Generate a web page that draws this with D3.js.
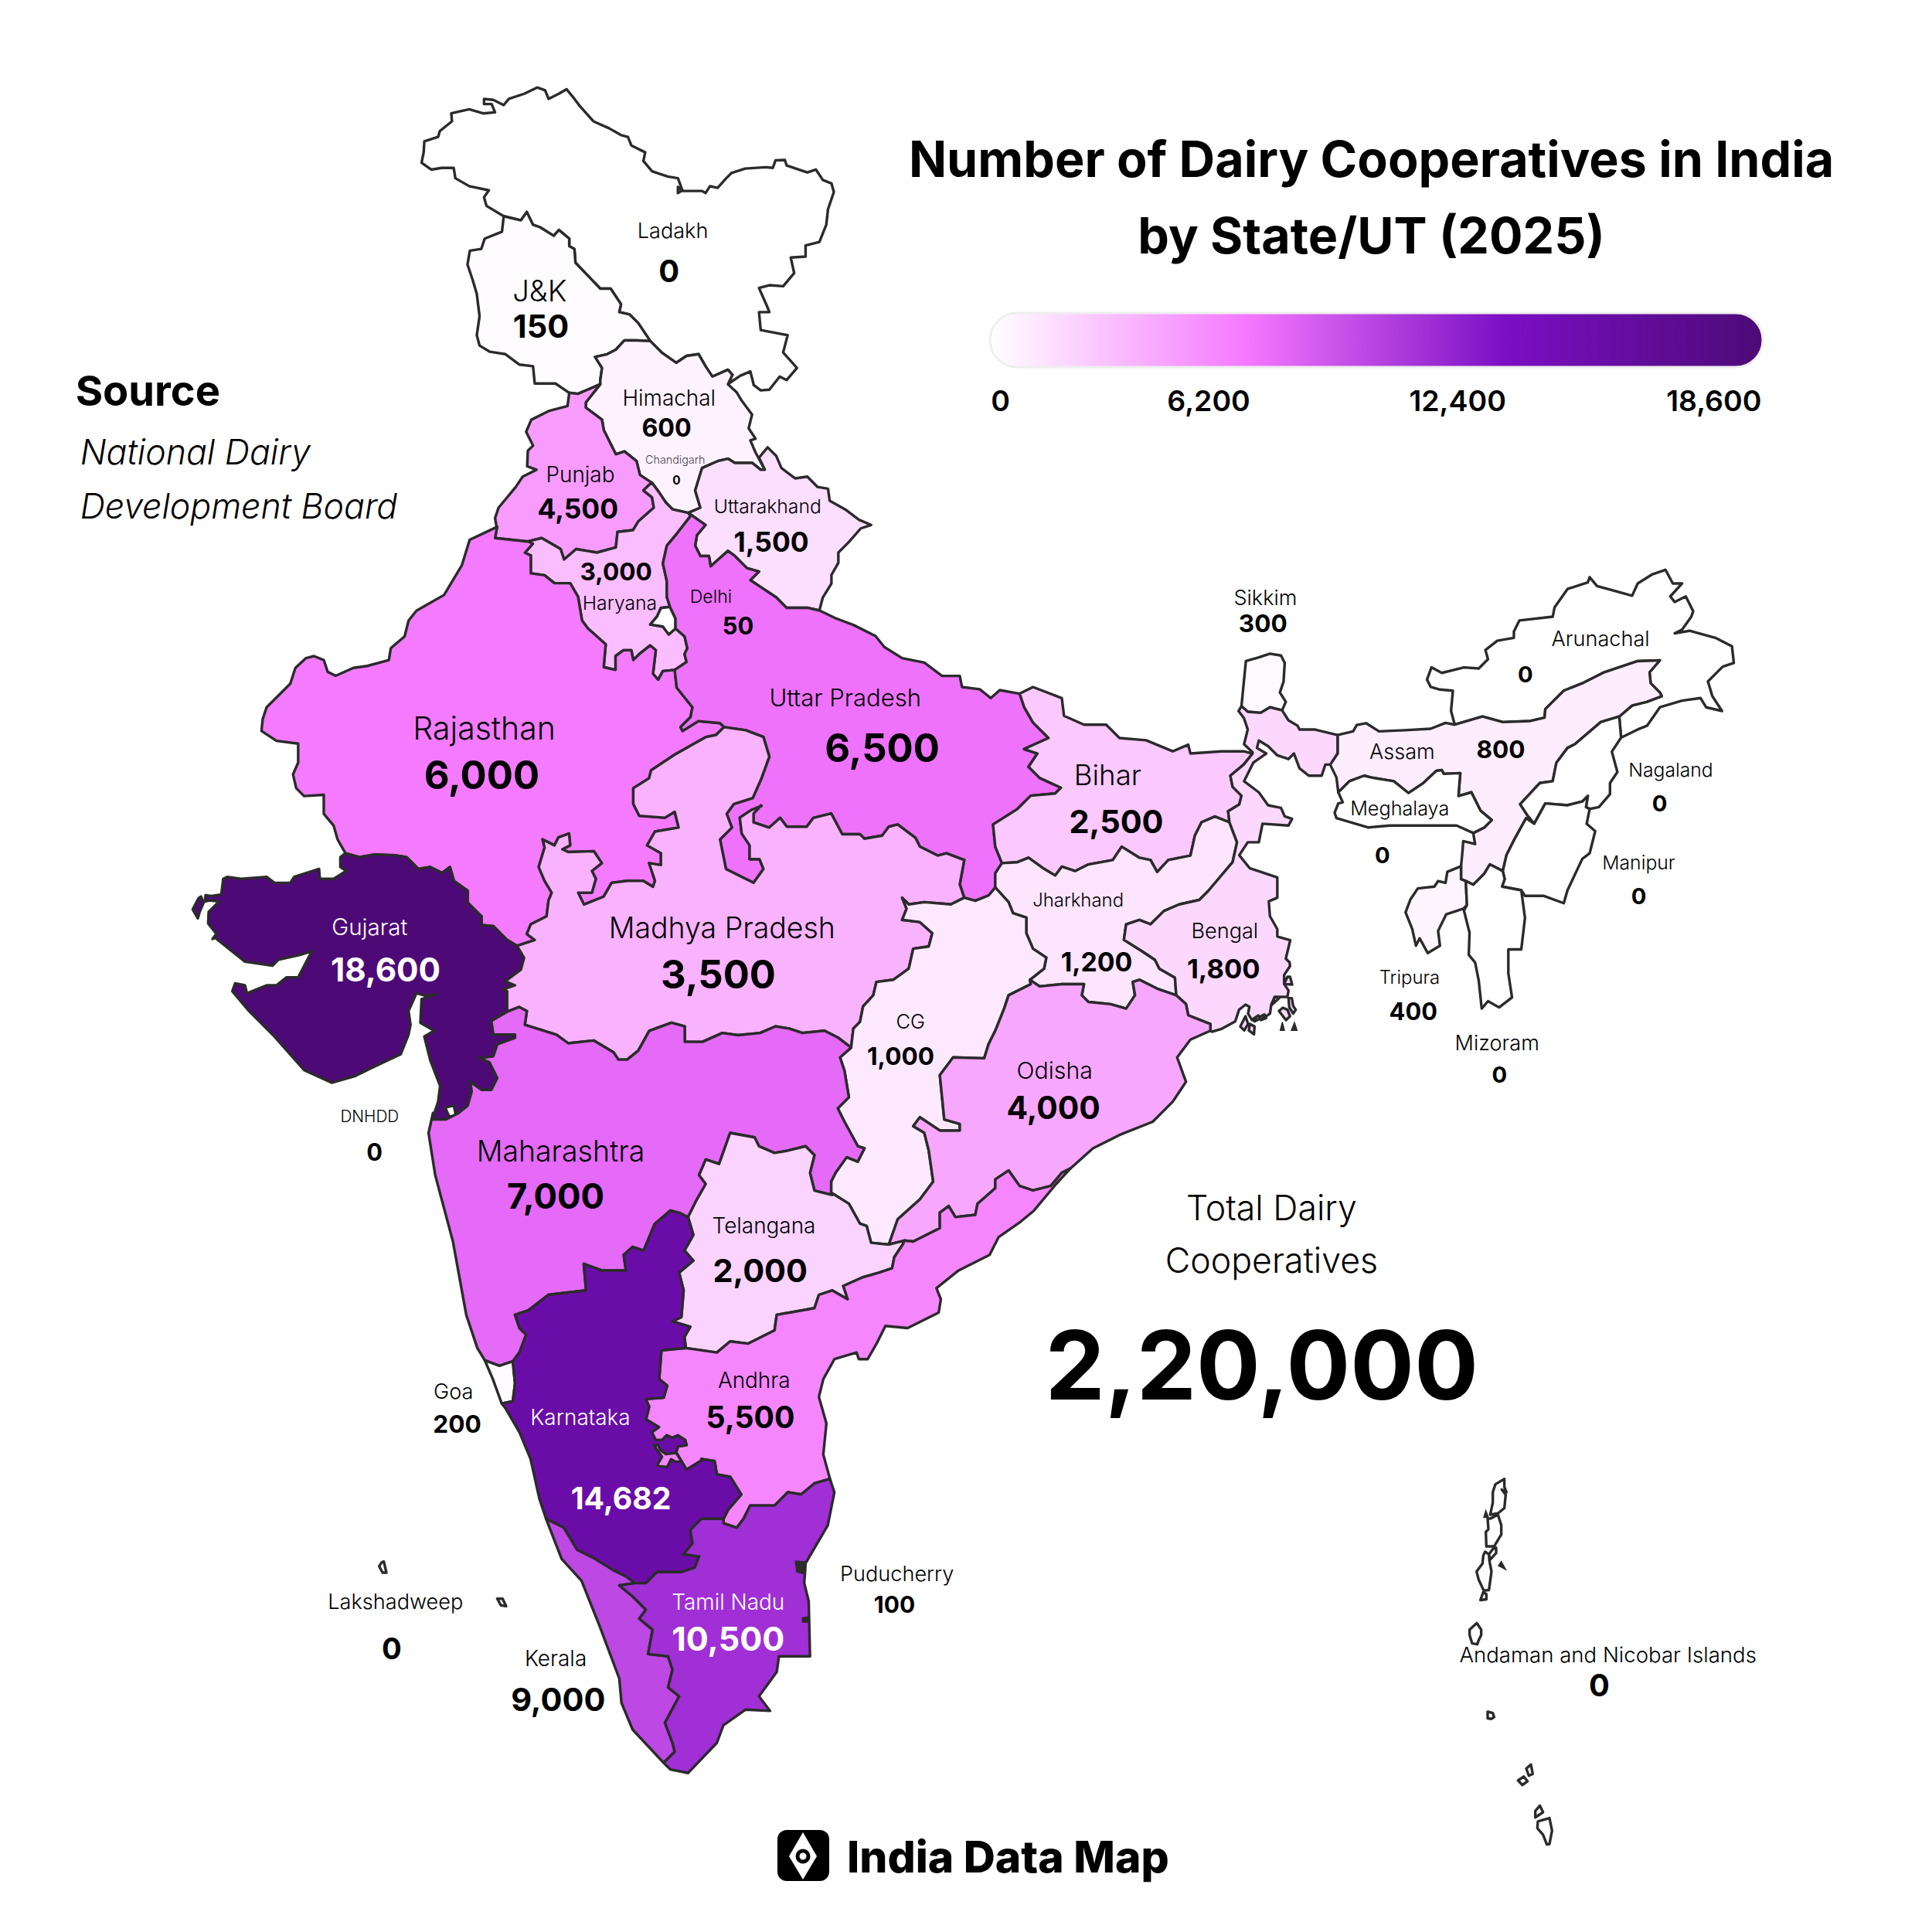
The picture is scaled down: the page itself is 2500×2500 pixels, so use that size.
<!doctype html>
<html>
<head>
<meta charset="utf-8">
<title>Number of Dairy Cooperatives in India</title>
<script src="https://cdn.jsdelivr.net/npm/d3@7/dist/d3.min.js"></script>
<style>
body { margin: 0; background: #fff; font-family: Inter, 'Noto Sans', sans-serif; }
svg { display: block; }
.state { stroke: #2b2b2b; stroke-width: 3.4; stroke-linejoin: round; }
.bit { fill: #2b2b2b; stroke: #2b2b2b; stroke-width: 1.5; }
text { text-anchor: middle; fill: #000; }
</style>
</head>
<body>
<div id="chart"></div>
<script>
// values
var stateNames = ['Ladakh','J&K','Himachal','Chandigarh','Punjab','Uttarakhand','Haryana','Delhi','Rajasthan','Uttar Pradesh','Bihar','Sikkim','Arunachal','Assam','Meghalaya','Nagaland','Manipur','Tripura','Mizoram','Jharkhand','Bengal','Gujarat','Madhya Pradesh','CG','Odisha','DNHDD','Maharashtra','Telangana','Goa','Andhra','Karnataka','Puducherry','Lakshadweep','Kerala','Tamil Nadu','Andaman and Nicobar Islands'];
var stateValues = [0,150,600,0,4500,1500,3000,50,6000,6500,2500,300,0,800,0,0,0,400,0,1200,1800,18600,3500,1000,4000,0,7000,2000,200,5500,14682,100,0,9000,10500,0];
var legendTicks = [0,6200,12400,18600];
var legendColors = ['#ffffff','#f477fe','#7b0fc4','#4d0a77'];
var titleLines = ['Number of Dairy Cooperatives in India','by State/UT (2025)'];
var sourceLines = ['National Dairy','Development Board'];
var totalLines = ['Total Dairy','Cooperatives'];
var totalValue = '2,20,000';

// label layout, in units of a 1568 wide sheet: name x, y, size, value x, y, size
var labelSpots = {
 'Ladakh':[546,187,17,543,220,25],'J&K':[438,236,24,439,265,26],'Himachal':[543,323,17.5,541,347,20.2],
 'Chandigarh':[548,373,9,549,390,9.6],'Punjab':[471,385,17.5,469,413,22.2],'Uttarakhand':[623,411,15.5,626,440,22.2],
 'Haryana':[503,489,15.5,500,464,19.8],'Delhi':[577,484,14.5,599,508,19.3],'Rajasthan':[393,591,25.7,391,629,31.8],
 'Uttar Pradesh':[686,566,19.5,716,607,31.8],'Bihar':[899,629,23,906,667,26],'Sikkim':[1027,485,17,1025,506,19.8],
 'Arunachal':[1299,518,17,1238,547,18.3],'Assam':[1138,610,17,1218,608,19.8],'Meghalaya':[1136,656,15.8,1122,694,18.3],
 'Nagaland':[1356,625,15.5,1347,652,18.3],'Manipur':[1330,700,15.5,1330,727,18.3],'Tripura':[1144,793,15,1147,821,19.3],
 'Mizoram':[1215,846,17,1217,872,18.3],'Jharkhand':[875,730,15,890,781,21.2],'Bengal':[994,755,17,993,786,21.7],
 'Gujarat':[300,752,18.5,313,787,26.5],'Madhya Pradesh':[586,753,23.5,583,791,31.8],'CG':[739,829,16,731,857,19.8],
 'Odisha':[856,869,19,855,899,25.6],'DNHDD':[300,906,13,304,935,19.3],'Maharashtra':[455,934,23.5,451,971,28.4],
 'Telangana':[620,995,17.5,617,1031,26],'Goa':[368,1129,17,371,1156,19.8],'Andhra':[612,1120,17.5,609,1150,24.6],
 'Karnataka':[471,1150,17.5,504,1216,24.6],'Puducherry':[728,1277,17,726,1302,18.8],'Lakshadweep':[321,1300,17,318,1338,24],
 'Kerala':[451,1346,17.5,453,1379,26],'Tamil Nadu':[591,1300,17.5,591,1330,27],'Andaman and Nicobar Islands':[1305,1343,17.3,1298,1368,25]
};
var whiteLabels = ['Gujarat','Karnataka','Tamil Nadu'];
var legendLabelSpots = [812,981,1183,1391];

// outlines are traced on map sheets, each sheet has its own scale below
var sheets = {
 north:{x:500,y:90,size:700,k:1568},
 west:{x:220,y:650,size:800,k:1568},
 east:{x:800,y:800,size:900,k:1568},
 south:{x:500,y:1400,size:900,k:1568},
 hills:{x:1550,y:700,size:750,k:1568},
 sea:{x:1850,y:1883,size:300,h:308,k:900},
 delta:{x:1560,y:1240,size:130,k:390},
 reef:{x:470,y:2000,size:60,k:180},
 kutch:{x:230,y:1130,size:100,k:300},
 enclave:{x:820,y:1820,size:100,k:300}
};

var arcsNorth = {
 ladakhNorth:[[340,425],[290,395],[283,370],[297,350],[240,338],[200,315],[195,285],[160,285],[130,290],[102,270],[108,240],[110,208],[150,195],[155,178],[190,150],[188,127],[240,115],[280,127],[315,124],[305,100],[283,100],[283,85],[310,88],[340,103],[355,85],[400,70],[437,52],[460,60],[470,85],[500,70],[522,57],[545,85],[560,105],[600,150],[645,170],[680,190],[700,195],[710,220],[750,240],[745,265],[770,295],[815,310],[845,315],[858,350],[845,358],[845,340],[858,352],[915,352],[925,358],[938,338],[960,343],[985,315],[1000,300],[1040,287],[1100,283],[1120,285],[1128,263],[1155,262],[1160,278],[1220,298],[1245,290],[1265,320],[1290,330],[1297,355],[1280,405],[1275,450],[1255,500],[1215,510],[1215,542],[1172,545],[1182,590],[1150,628],[1110,625],[1080,633],[1105,690],[1110,703],[1080,703],[1085,755],[1163,770],[1150,820],[1190,865],[1160,900],[1140,890],[1110,928],[1085,930],[1065,915],[1055,875],[1025,888],[1000,905],[990,912]],
 jkLadakh:[[340,425],[390,437],[407,413],[425,450],[445,457],[485,482],[500,465],[530,490],[530,512],[545,520],[548,560],[620,635],[650,635],[680,680],[675,703],[705,710],[730,735],[765,787]],
 hpLadakh:[[990,912],[1003,885],[990,870],[945,890],[925,860],[905,825],[870,830],[840,850],[800,822],[765,787]],
 hpJk:[[765,787],[725,785],[690,785],[665,812],[640,825],[605,833],[625,865],[620,900],[620,912]],
 jkPunjab:[[620,912],[590,925],[555,940],[530,937]],
 jkWest:[[530,937],[490,910],[430,910],[425,860],[385,855],[345,825],[300,818],[270,800],[262,770],[270,715],[262,650],[250,610],[235,565],[242,525],[275,520],[285,490],[335,470],[340,425]],
 hpPunjab:[[620,912],[578,965],[578,980],[625,1015],[630,1045],[665,1115],[690,1107],[725,1135],[735,1175],[770,1198]],
 punjabHaryana:[[770,1198],[760,1205],[745,1220],[770,1240],[775,1270],[730,1310],[715,1335],[670,1340],[665,1385],[610,1400],[550,1390],[515,1420],[505,1390],[485,1378],[450,1358],[410,1368]],
 rajPunjab:[[410,1368],[315,1358],[320,1330]],
 punjabWest:[[320,1330],[315,1300],[325,1270],[375,1210],[395,1180],[435,1160],[408,1150],[410,1105],[425,1090],[405,1050],[420,1015],[470,990],[525,975],[530,937]],
 hpHaryana:[[770,1198],[790,1225],[810,1255],[830,1275],[875,1285]],
 hpUk:[[875,1285],[910,1270],[895,1220],[915,1155],[960,1135],[990,1128],[1010,1140],[1060,1140],[1085,1160],[1097,1160]],
 hpEast:[[1097,1160],[1070,1110],[1055,1075],[1070,1070],[1050,1040],[1060,1000],[1030,960],[1015,935],[990,912]],
 ukNorth:[[1097,1160],[1080,1125],[1105,1095],[1130,1120],[1145,1155],[1185,1185],[1220,1180],[1250,1210],[1280,1215],[1285,1250],[1330,1275],[1370,1305],[1405,1320],[1375,1330],[1340,1370],[1310,1400],[1310,1430],[1290,1465],[1290,1490],[1265,1530],[1255,1568]],
 ukUp:[[875,1285],[925,1320],[900,1350],[895,1380],[910,1410],[935,1410],[940,1440],[990,1395],[1010,1410],[1045,1445],[1080,1455],[1055,1480],[1085,1500],[1130,1530],[1160,1560],[1220,1560],[1255,1568]]
};

var arcsWest = {
 haryanaUp1:[[1320,35],[1285,80],[1260,110],[1250,155],[1260,200],[1260,240],[1268,265]],
 delhiHaryana:[[1268,265],[1245,268],[1235,290],[1218,310],[1250,315],[1265,335],[1282,320]],
 delhiUp:[[1268,265],[1282,295],[1282,320]],
 haryanaUp2:[[1282,320],[1305,340],[1312,370],[1305,385],[1310,405],[1280,425]],
 haryanaRaj:[[1280,425],[1250,428],[1238,450],[1225,435],[1232,375],[1218,363],[1190,385],[1175,400],[1170,375],[1150,375],[1130,390],[1130,425],[1100,418],[1105,360],[1060,320],[1045,300],[1035,240],[1015,205],[975,205],[950,185],[915,180],[915,135],[900,128],[920,105],[910,100]],
 rajWest:[[830,62],[760,95],[740,160],[695,235],[625,275],[605,300],[595,340],[560,370],[555,400],[500,415],[465,420],[420,440],[400,430],[390,400],[365,390],[345,395],[318,420],[305,460],[245,520],[235,550],[232,580],[270,605],[325,612],[325,660],[312,690],[320,725],[340,745],[390,742],[390,790],[415,820],[425,855],[445,890]],
 gujRaj:[[445,890],[480,900],[520,893],[570,895],[600,900],[630,930],[660,925],[690,940],[710,925],[720,960],[755,985],[755,1015],[790,1050],[790,1072],[820,1075],[855,1110],[880,1125]],
 rajMp:[[880,1125],[925,1110],[905,1095],[915,1070],[955,1050],[960,1010],[968,990],[950,960],[935,925],[950,875],[945,855],[975,870],[985,850],[1012,840],[1015,870],[995,880],[1010,887],[1075,885],[1095,915],[1070,935],[1080,955],[1070,990],[1035,990],[1050,1020],[1100,1000],[1120,965],[1160,960],[1200,960],[1225,975],[1230,960],[1215,915],[1245,920],[1245,890],[1210,870],[1230,835],[1290,825],[1280,785],[1255,800],[1190,795],[1175,765],[1175,725],[1215,700],[1220,680],[1280,640],[1360,595],[1385,590],[1405,570]],
 rajUp:[[1280,425],[1285,470],[1325,520],[1320,545],[1295,570],[1300,580],[1340,555],[1395,560],[1405,570]],
 mpUp1:[[1405,570],[1460,578],[1505,595],[1520,645],[1500,700],[1478,750],[1430,765],[1412,790],[1425,825],[1395,855],[1410,930],[1450,950],[1480,965],[1505,930],[1495,905],[1470,905],[1470,870],[1450,840],[1445,800],[1475,780],[1500,770]],
 mpMhWest:[[1137,1413],[1125,1395],[1075,1365],[1010,1372],[980,1350],[900,1325],[905,1290],[885,1280],[855,1292]],
 gujMp:[[855,1292],[855,1240],[845,1235],[875,1225],[850,1215],[890,1185],[898,1155],[880,1125]],
 gujCoast1:[[445,890],[432,900],[432,925],[447,935],[415,955],[380,955],[378,930],[315,950],[305,965],[265,965],[245,950],[180,955],[145,950],[135,955],[130,995]],
 gujCoast2:[[115,1105],[190,1165],[260,1175],[275,1160],[330,1148],[360,1138],[325,1205],[295,1205],[270,1225],[245,1225],[195,1245],[190,1225],[165,1220],[158,1240],[200,1290],[265,1355],[340,1440],[410,1472],[470,1455],[510,1435],[585,1400],[605,1350],[610,1325],[605,1290],[625,1245],[650,1252],[675,1248],[638,1260],[635,1320],[670,1340],[645,1355],[660,1415],[685,1480],[680,1520],[665,1565]],
 gujMh:[[855,1292],[815,1315],[820,1350],[875,1350],[875,1358],[830,1375],[820,1405],[785,1410],[810,1420],[830,1460],[815,1490],[790,1490],[762,1470],[765,1495],[755,1530],[730,1550],[700,1565],[665,1565]]
};

var arcsKutch = {
 gujKutch:[[170,82],[130,88],[108,85],[105,110],[125,105],[160,110],[120,150],[118,195],[150,235],[135,255],[146,250]]
};

var arcsEast = {
 mpUp2:[[322,422],[305,440],[305,460],[340,472],[365,450],[380,470],[425,470],[440,450],[480,440],[505,487],[545,487],[555,497],[595,490],[610,470],[630,465],[670,495],[680,515],[720,535],[740,530],[780,545],[770,600],[780,630]],
 upCg:[[780,630],[805,637],[835,625],[850,607]],
 upJh:[[865,552],[850,575],[850,607]],
 upBihar:[[905,170],[915,200],[935,235],[970,270],[915,295],[945,305],[925,335],[950,360],[998,382],[985,395],[930,400],[900,430],[845,465],[850,515],[865,552]],
 upNorth:[[453,-18],[490,0],[530,15],[580,40],[600,65],[640,90],[690,100],[730,130],[770,130],[775,155],[815,160],[840,180],[860,162],[905,170]],
 biharNorth:[[905,170],[935,155],[1000,180],[1005,220],[1050,240],[1100,240],[1130,270],[1190,275],[1250,300],[1285,285],[1290,305],[1360,300],[1410,300],[1430,305]],
 biharBengal:[[1430,305],[1410,330],[1380,355],[1385,380],[1405,400],[1400,420],[1375,435],[1378,460]],
 jhBihar:[[1378,460],[1345,447],[1315,460],[1300,490],[1290,535],[1240,545],[1215,572],[1200,545],[1175,540],[1135,515],[1115,545],[1060,555],[1030,570],[1000,560],[985,580],[960,565],[925,540],[900,550],[865,552]],
 jhBengal:[[1378,460],[1395,505],[1385,550],[1330,615],[1310,635],[1265,645],[1230,660],[1200,690],[1175,680],[1145,690],[1140,725],[1180,750],[1210,770],[1220,790],[1255,810],[1258,850]],
 bengalOdisha:[[1258,850],[1280,870],[1285,895],[1335,915],[1335,930]],
 jhOdisha:[[1258,850],[1215,835],[1175,815],[1160,820],[1165,850],[1145,880],[1110,870],[1060,865],[1045,850],[1050,825],[1000,825],[950,830],[928,815]],
 jhCg:[[928,815],[960,790],[965,765],[935,745],[920,710],[920,675],[890,665],[880,640],[850,607]],
 mpCg:[[780,630],[750,645],[690,640],[655,645],[640,630],[650,655],[640,680],[680,685],[708,710],[700,740],[665,745],[655,790],[620,815],[582,820],[575,850],[552,875],[545,910],[530,925],[525,968]],
 mpMhEast:[[525,968],[495,945],[465,930],[415,935],[385,925],[355,920],[320,935],[270,940],[235,935],[190,955],[150,955],[150,920],[120,912],[70,930],[45,975],[20,995],[0,995]],
 mhCg:[[525,968],[500,990],[510,1020],[520,1080],[495,1105],[510,1135],[540,1190],[555,1195],[540,1225],[515,1215],[490,1250],[480,1270],[480,1295]],
 cgTs:[[480,1295],[520,1320],[545,1365],[560,1370],[570,1408],[610,1412]],
 cgOdisha:[[610,1412],[630,1355],[680,1310],[710,1270],[700,1200],[690,1160],[665,1145],[680,1125],[725,1155],[770,1155],[770,1140],[735,1130],[725,1030],[755,990],[825,992],[835,960],[850,930],[870,880],[880,850],[930,825],[928,815]],
 odishaCoast:[[1335,930],[1290,950],[1260,990],[1280,1045],[1250,1090],[1205,1135],[1130,1165],[1070,1195],[1020,1240]],
 odishaAp:[[1020,1240],[1000,1250],[975,1280],[935,1290],[905,1280],[880,1245],[850,1265],[850,1285],[810,1320],[805,1345],[760,1350],[745,1325],[725,1340],[725,1375],[665,1405],[645,1403]],
 tsOdisha:[[645,1403],[610,1412]]
};

var arcsSouth = {
 mhCoast:[[105,70],[95,115],[110,210],[150,360],[180,525],[205,600],[222,628]],
 mhGoa:[[222,628],[255,640],[270,635],[285,630]],
 mhKa:[[285,630],[300,610],[315,570],[300,555],[290,525],[320,515],[365,480],[450,470],[445,410],[485,425],[540,425],[535,390],[555,372],[580,380],[605,320],[640,290],[660,295],[680,305]],
 mhTs:[[680,305],[700,265],[720,230],[705,210],[720,175],[750,185],[775,115],[830,125],[840,145],[875,160],[905,155],[945,145],[965,165],[955,205],[965,245],[1005,255]],
 tsKa:[[680,305],[692,345],[672,380],[692,403],[660,430],[670,470],[665,530],[645,540],[685,552],[672,575],[675,600]],
 tsAp:[[1165,365],[1145,395],[1140,420],[1110,430],[1075,440],[1030,460],[1040,490],[1005,470],[975,480],[965,510],[880,525],[875,560],[815,590],[775,585],[745,610],[675,600]],
 apCoast:[[1543,194],[1510,230],[1460,290],[1430,315],[1380,350],[1360,390],[1290,425],[1240,465],[1250,490],[1245,520],[1175,555],[1125,550],[1105,590],[1085,625],[1065,625],[1060,610],[1010,625],[985,670],[975,710],[992,770],[985,840],[1000,895]],
 apTn:[[1000,895],[965,905],[935,930],[905,925],[875,955],[820,955],[805,985],[790,1005],[760,995],[760,985]],
 apKa1:[[760,985],[770,965],[800,930],[775,890],[745,885],[740,855],[710,850]],
 apKa2:[[592,732],[585,715],[625,712],[633,685],[615,670],[620,605],[675,600]],
 kaTn:[[760,985],[710,985],[685,1010],[690,1040],[670,1065],[705,1070],[695,1095],[665,1105],[610,1105],[585,1130],[560,1130]],
 kaKerala:[[560,1130],[540,1115],[510,1100],[470,1075],[430,1055],[400,1005],[360,985]],
 kaCoast:[[360,985],[345,940],[325,850],[300,790],[268,735],[260,725]],
 goaKa:[[260,725],[285,720],[290,680],[285,630]],
 goaCoast:[[222,628],[240,670],[260,725]],
 keralaTn:[[560,1130],[525,1135],[555,1160],[585,1190],[570,1210],[600,1235],[590,1290],[635,1295],[645,1325],[635,1365],[660,1385],[628,1445],[645,1490],[650,1510],[625,1535]],
 keralaCoast:[[360,985],[395,1075],[440,1125],[480,1225],[525,1345],[530,1400],[555,1460],[625,1535]],
 tnCoast:[[1000,895],[1010,925],[995,1000],[945,1085],[942,1130],[952,1170],[955,1295],[885,1295],[880,1330],[840,1385],[865,1418],[810,1415],[760,1450],[745,1490],[680,1558],[640,1550],[625,1535]]
};

var arcsEnclave = {
 apKaEnclave:[[270,205],[205,245],[185,212],[165,178],[172,155],[205,150],[200,130],[172,112],[150,122],[128,112],[110,130],[85,130],[70,100],[98,80],[48,50],[60,0]]
};

var arcsDelta = {
 bengalDelta:[[326,15],[328,30],[305,65],[305,100],[322,125],[318,150],[268,150],[255,180],[250,215],[220,235],[180,240],[165,215],[170,188],[155,180],[130,200],[115,245],[60,275],[25,285]]
};

var arcsHills = {
 sikkimTop:[[118,447],[130,325],[165,315],[195,305],[225,310],[235,330],[232,380],[222,410],[238,435],[228,458]],
 sikkimBengal:[[118,447],[135,462],[170,465],[195,450],[228,458]],
 bengalNorth1:[[148,572],[125,550],[135,510],[125,480],[110,460],[118,447]],
 bengalNorth2:[[228,458],[245,485],[270,500],[275,510],[315,510],[378,525]],
 assamBengal:[[378,525],[378,575],[358,605]],
 bengalEast:[[358,605],[345,605],[335,635],[300,635],[275,615],[260,575],[245,590],[215,580],[190,555],[165,540],[160,560],[185,575],[150,600],[125,650],[165,680],[190,715],[225,722],[235,745],[255,752],[245,770],[175,765],[165,815],[135,815],[112,850],[140,885],[215,910],[215,965],[192,975],[195,1015],[215,1050],[215,1070],[250,1080],[238,1130],[248,1140]],
 assamNorth:[[378,525],[420,515],[430,498],[455,493],[490,515],[560,512],[630,508],[670,492],[695,497]],
 assamArunachal:[[695,497],[770,475],[825,490],[900,487],[938,478],[940,455],[990,405],[1040,385],[1100,355],[1190,325],[1250,323],[1222,355],[1225,385],[1250,410],[1255,420],[1215,435],[1175,445],[1140,475]],
 arunachalOuter:[[695,497],[685,460],[690,405],[655,402],[630,395],[620,375],[632,342],[660,357],[720,342],[760,345],[785,320],[778,295],[810,270],[855,262],[855,245],[870,215],[960,205],[965,180],[1000,130],[1055,112],[1060,98],[1080,122],[1175,148],[1190,115],[1230,90],[1265,78],[1285,115],[1310,115],[1278,150],[1290,165],[1320,150],[1340,190],[1335,205],[1310,240],[1290,250],[1330,243],[1400,262],[1445,285],[1450,330],[1420,340],[1380,380],[1392,420],[1418,460],[1375,450],[1360,425],[1310,432],[1250,450],[1215,500],[1190,510],[1145,532]],
 nagaArunachal:[[1140,475],[1145,532]],
 assamNaga:[[1140,475],[1090,490],[1020,550],[1000,560],[970,600],[960,650],[925,655],[872,712],[890,740],[910,765]],
 nagaEast:[[1145,532],[1120,570],[1135,625],[1115,655],[1115,685],[1085,720],[1060,725]],
 nagaManipur:[[1060,725],[1050,720],[1055,690],[1040,705],[1000,715],[940,710],[910,765]],
 assamManipur:[[910,765],[888,750],[855,810],[835,850],[825,893]],
 manipurMizo:[[825,893],[830,915],[823,935],[875,945]],
 manipurEast:[[875,945],[885,960],[935,960],[990,980],[1000,945],[1040,860],[1060,845],[1075,785],[1052,765],[1060,725]],
 assamMizoram:[[825,893],[790,875],[775,900],[745,930],[725,920]],
 assamTripura:[[725,920],[712,915],[712,880]],
 assamBangla:[[712,880],[715,850],[718,812],[750,820],[745,790]],
 assamMegha:[[745,790],[775,775],[795,755],[765,730],[740,680],[705,690],[710,628],[665,630],[660,620],[645,622],[610,655],[570,682],[530,650],[470,640],[450,635],[410,650],[380,680]],
 assamWest:[[380,680],[375,640],[358,605]],
 meghaSouth:[[380,680],[392,707],[380,710],[370,735],[375,750],[460,775],[520,770],[600,770],[700,770],[745,790]],
 mizoOuter:[[875,945],[885,1020],[875,1105],[840,1105],[840,1170],[850,1235],[815,1262],[785,1245],[768,1265],[760,1190],[750,1140],[733,1120],[735,1060],[720,1000],[728,985]],
 mizoTripura:[[728,985],[725,920]],
 tripuraOuter:[[712,880],[675,895],[670,925],[650,920],[640,935],[595,940],[575,970],[562,1005],[580,1050],[590,1095],[600,1075],[622,1115],[655,1095],[650,1055],[672,1010],[718,995],[728,985]]
};

// islands and other closed bits: sheet, ring
var islandRings = {
 'Andaman and Nicobar Islands':[
  ['sea',[[290,90],[255,110],[245,140],[245,180],[235,225],[265,220],[290,200],[295,150],[280,130],[298,140],[290,120]]],
  ['sea',[[235,240],[265,225],[278,265],[278,300],[250,345],[220,345],[218,290],[228,280],[225,240]]],
  ['sea',[[245,355],[258,350],[258,370],[235,395],[230,375]]],
  ['sea',[[215,365],[230,375],[232,400],[240,440],[230,510],[210,512],[190,470],[182,440],[205,410],[208,380]]],
  ['sea',[[208,518],[220,525],[220,545],[197,548]]],
  ['sea',[[183,635],[200,660],[200,680],[190,700],[185,715],[165,712],[155,680],[155,660]]],
  ['sea',[[225,970],[245,975],[250,990],[240,997],[225,995]]],
  ['sea',[[375,1185],[393,1170],[400,1205],[385,1212]]],
  ['sea',[[343,1230],[365,1215],[380,1233],[360,1247]]],
  ['sea',[[428,1325],[440,1350],[410,1370],[410,1345]]],
  ['sea',[[420,1385],[465,1372],[475,1420],[465,1470],[455,1472],[440,1435],[418,1410]]]
 ],
 'Lakshadweep':[
  ['south',[[250,1165],[262,1165],[270,1182],[258,1180]]],
  ['reef',[[72,65],[80,62],[90,105],[75,105],[62,80]]]
 ],
 'Bengal':[
  ['delta',[[318,72],[328,72],[336,102],[305,100]]],
  ['delta',[[268,150],[285,155],[258,180]]],
  ['delta',[[322,155],[335,155],[340,185],[350,200],[340,215],[325,190]]],
  ['delta',[[285,205],[300,192],[318,200],[328,225],[312,240]]],
  ['delta',[[155,225],[165,255],[150,280],[135,265]]],
  ['delta',[[172,255],[190,265],[188,295],[168,280]]],
  ['delta',[[185,235],[205,222],[210,235],[190,245]]],
  ['delta',[[210,228],[228,218],[235,232],[215,240]]]
 ],
 'Gujarat':[
  ['kutch',[[80,98],[90,90],[100,115],[85,150],[78,175],[58,140]]]
 ],
 'DNHDD':[['west',[[698,1535],[720,1530],[725,1555],[708,1558]]]]
};
// drawn last, these sit inside a neighbour
var enclaveRings = [
 ['Andhra','enclave',[[78,150],[95,150],[105,170],[125,185],[165,180],[185,212],[165,215],[145,205],[130,235],[90,230],[110,195]]]
];
var darkBits = [
 ['sea',[[218,210],[228,235],[210,235]]],
 ['sea',[[278,402],[295,432],[267,418]]],
 ['delta',[[298,248],[306,280],[290,280]]],
 ['delta',[[345,250],[355,280],[333,280]]],
 ['south',[[922,1080],[945,1082],[945,1110],[925,1105]]],
 ['south',[[938,1208],[950,1206],[950,1218],[938,1218]]]
];

// which arcs make each state
var stateArcs = {
 'Ladakh':['ladakhNorth','hpLadakh','jkLadakh'],
 'J&K':['jkLadakh','hpJk','jkPunjab','jkWest'],
 'Himachal':['hpLadakh','hpJk','hpPunjab','hpHaryana','hpUk','hpEast'],
 'Punjab':['jkPunjab','hpPunjab','punjabHaryana','rajPunjab','punjabWest'],
 'Uttarakhand':['hpUk','ukNorth','ukUp'],
 'Haryana':['punjabHaryana','hpHaryana','haryanaUp1','delhiHaryana','haryanaUp2','haryanaRaj'],
 'Delhi':['delhiHaryana','delhiUp'],
 'Rajasthan':['rajPunjab','rajWest','gujRaj','rajMp','rajUp','haryanaRaj'],
 'Uttar Pradesh':['ukUp','upNorth','upBihar','upJh','upCg','mpUp2','mpUp1','rajUp','haryanaUp2','delhiUp','haryanaUp1'],
 'Madhya Pradesh':['rajMp','mpUp1','mpUp2','mpCg','mpMhEast','mpMhWest','gujMp'],
 'Gujarat':['gujRaj','gujMp','gujMh','gujCoast2','gujKutch','gujCoast1'],
 'Maharashtra':['gujMh','mpMhWest','mpMhEast','mhCg','mhTs','mhKa','mhGoa','mhCoast'],
 'CG':['mpCg','mhCg','cgTs','cgOdisha','jhCg','upCg'],
 'Jharkhand':['upJh','jhBihar','jhBengal','jhOdisha','jhCg'],
 'Bihar':['upBihar','biharNorth','biharBengal','jhBihar'],
 'Bengal':['biharBengal','jhBengal','bengalOdisha','bengalDelta','bengalEast','assamBengal','bengalNorth2','sikkimBengal','bengalNorth1'],
 'Sikkim':['sikkimTop','sikkimBengal'],
 'Odisha':['jhOdisha','bengalOdisha','odishaCoast','odishaAp','tsOdisha','cgOdisha'],
 'Telangana':['mhTs','cgTs','tsOdisha','tsAp','tsKa'],
 'Andhra':['odishaAp','apCoast','apTn','apKa1','apKaEnclave','apKa2','tsAp'],
 'Karnataka':['tsKa','apKa2','apKaEnclave','apKa1','kaTn','kaKerala','kaCoast','goaKa','mhKa'],
 'Goa':['mhGoa','goaKa','goaCoast'],
 'Kerala':['kaKerala','keralaTn','keralaCoast'],
 'Tamil Nadu':['kaTn','apTn','tnCoast','keralaTn'],
 'Assam':['assamBengal','assamWest','assamMegha','assamBangla','assamTripura','assamMizoram','assamManipur','assamNaga','assamArunachal','assamNorth'],
 'Arunachal':['assamArunachal','nagaArunachal','arunachalOuter'],
 'Meghalaya':['assamMegha','meghaSouth'],
 'Nagaland':['nagaArunachal','nagaEast','nagaManipur','assamNaga'],
 'Manipur':['nagaManipur','assamManipur','manipurMizo','manipurEast'],
 'Mizoram':['assamMizoram','manipurMizo','mizoOuter','mizoTripura'],
 'Tripura':['assamTripura','tripuraOuter','mizoTripura']
};

var W = 2500, H = 2500;
var unit = d3.scaleLinear().domain([0,1568]).range([0,W]);

var svg = d3.select('#chart').append('svg').attr('width',W).attr('height',H);

var color = d3.scaleLinear().domain(legendTicks).range(legendColors);

// sheet scales
var sheetX = {}, sheetY = {};
Object.keys(sheets).forEach(function(k){
  var s = sheets[k];
  sheetX[k] = d3.scaleLinear().domain([0,s.k]).range([s.x,s.x+s.size]);
  sheetY[k] = d3.scaleLinear().domain([0,s.k]).range([s.y,s.y+(s.h||s.size)]);
});

function place(sheet, pts){
  return pts.map(function(p){ return [sheetX[sheet](p[0]), sheetY[sheet](p[1])]; });
}

var arcs = {};
[['north',arcsNorth],['west',arcsWest],['kutch',arcsKutch],['east',arcsEast],['south',arcsSouth],['enclave',arcsEnclave],['delta',arcsDelta],['hills',arcsHills]].forEach(function(a){
  Object.keys(a[1]).forEach(function(name){ arcs[name] = place(a[0], a[1][name]); });
});

function dist(a,b){ return Math.hypot(a[0]-b[0], a[1]-b[1]); }

// join arcs into a ring, flipping each arc to follow the last one
function buildRing(names){
  var list = names.map(function(n){ return arcs[n]; });
  var first = list[0], second = list[1];
  var ring = first.slice();
  var d1 = Math.min(dist(first[first.length-1],second[0]), dist(first[first.length-1],second[second.length-1]));
  var d2 = Math.min(dist(first[0],second[0]), dist(first[0],second[second.length-1]));
  if (d2 < d1) ring.reverse();
  list.slice(1).forEach(function(arc){
    var end = ring[ring.length-1];
    var pts = dist(end,arc[0]) <= dist(end,arc[arc.length-1]) ? arc : arc.slice().reverse();
    ring = ring.concat(pts);
  });
  ring.push(ring[0]);
  return ring;
}

function closeRing(r){ return r.concat([r[0]]); }

var valueOf = d3.scaleOrdinal().domain(stateNames).range(stateValues);

var features = stateNames.map(function(name){
  var polys = [];
  if (stateArcs[name]) polys.push([buildRing(stateArcs[name])]);
  (islandRings[name] || []).forEach(function(r){ polys.push([closeRing(place(r[0], r[1]))]); });
  return {type:'Feature', properties:{name:name, value:valueOf(name)}, geometry:{type:'MultiPolygon', coordinates:polys}};
}).filter(function(f){ return f.geometry.coordinates.length > 0; });

enclaveRings.forEach(function(r){
  features.push({type:'Feature', properties:{name:r[0], value:valueOf(r[0])}, geometry:{type:'Polygon', coordinates:[closeRing(place(r[1], r[2]))]}});
});

var path = d3.geoPath();

svg.append('g').selectAll('path').data(features).enter().append('path')
  .attr('class','state')
  .attr('d',path)
  .attr('fill',function(d){ return color(d.properties.value); });

svg.append('g').selectAll('path').data(darkBits).enter().append('path')
  .attr('class','bit')
  .attr('d',function(d){ return d3.line()(place(d[0],d[1])) + 'Z'; });

// state labels
var fmt = d3.format(',');
var labels = svg.append('g').selectAll('g').data(stateNames).enter().append('g');
labels.append('text')
  .attr('x',function(d){ return unit(labelSpots[d][0]); })
  .attr('y',function(d){ return unit(labelSpots[d][1]); })
  .attr('dy','.36em')
  .style('font-size',function(d){ return unit(labelSpots[d][2])+'px'; })
  .style('font-weight',300)
  .style('fill',function(d){ return whiteLabels.indexOf(d)>=0 ? '#fff' : (d=='Chandigarh' ? '#444' : '#000'); })
  .text(function(d){ return d; });
labels.append('text')
  .attr('x',function(d){ return unit(labelSpots[d][3]); })
  .attr('y',function(d){ return unit(labelSpots[d][4]); })
  .attr('dy','.36em')
  .style('font-size',function(d){ return unit(labelSpots[d][5])+'px'; })
  .style('font-weight',700)
  .style('fill',function(d){ return whiteLabels.indexOf(d)>=0 ? '#fff' : '#000'; })
  .text(function(d){ return fmt(valueOf(d)); });

// title
svg.append('g').selectAll('text').data(titleLines).enter().append('text')
  .attr('x',unit(1113))
  .attr('y',function(d,i){ return unit(129+i*62); })
  .attr('dy','.36em')
  .style('font-size',unit(40.5)+'px')
  .style('font-weight',700)
  .text(function(d){ return d; });

// legend
var gradient = svg.append('defs').append('linearGradient').attr('id','legendFill');
gradient.selectAll('stop').data(legendTicks).enter().append('stop')
  .attr('offset',function(d){ return d/18600; })
  .attr('stop-color',function(d){ return color(d); });

var legendX = d3.scaleLinear().domain([0,18600]).range([1281,2281]);
svg.append('rect')
  .attr('x',legendX(0)).attr('y',405).attr('width',legendX(18600)-legendX(0)).attr('height',70)
  .attr('rx',35).attr('ry',35)
  .attr('fill','url(#legendFill)').attr('stroke','#eeeeee').attr('stroke-width',3);

svg.append('g').selectAll('text').data(legendTicks).enter().append('text')
  .attr('x',function(d,i){ return unit(legendLabelSpots[i]); })
  .attr('y',unit(325))
  .attr('dy','.36em')
  .style('font-size',unit(23.5)+'px')
  .style('font-weight',600)
  .text(function(d){ return fmt(d); });

// source
svg.append('text').attr('x',unit(120)).attr('y',unit(317)).attr('dy','.36em')
  .style('font-size',unit(34)+'px').style('font-weight',700).text('Source');
svg.append('g').selectAll('text').data(sourceLines).enter().append('text')
  .attr('x',unit(65))
  .attr('y',function(d,i){ return unit(367+i*44); })
  .attr('dy','.36em')
  .style('text-anchor','start')
  .style('font-size',unit(28)+'px')
  .style('font-style','italic')
  .style('font-weight',300)
  .text(function(d){ return d; });

// total
svg.append('g').selectAll('text').data(totalLines).enter().append('text')
  .attr('x',unit(1032))
  .attr('y',function(d,i){ return unit(980+i*43); })
  .attr('dy','.36em')
  .style('font-size',unit(28)+'px')
  .style('font-weight',300)
  .text(function(d){ return d; });
svg.append('text').attr('x',unit(1024)).attr('y',unit(1108)).attr('dy','.36em')
  .style('font-size',unit(77)+'px').style('font-weight',700).text(totalValue);

// logo
var logo = svg.append('g').attr('transform','translate(1006,2368)');
logo.append('rect').attr('width',67).attr('height',66).attr('rx',12).attr('fill','#000');
logo.append('path').attr('d',d3.line()([[33,3],[51,34],[33,64],[15,34]])+'Z').attr('fill','#fff');
logo.append('circle').attr('cx',33).attr('cy',34).attr('r',7).attr('fill','#fff').attr('stroke','#000').attr('stroke-width',5);
svg.append('text').attr('x',1096).attr('y',2423)
  .style('text-anchor','start').style('font-size',unit(35.7)+'px').style('font-weight',800).text('India Data Map');
</script>
</body>
</html>
